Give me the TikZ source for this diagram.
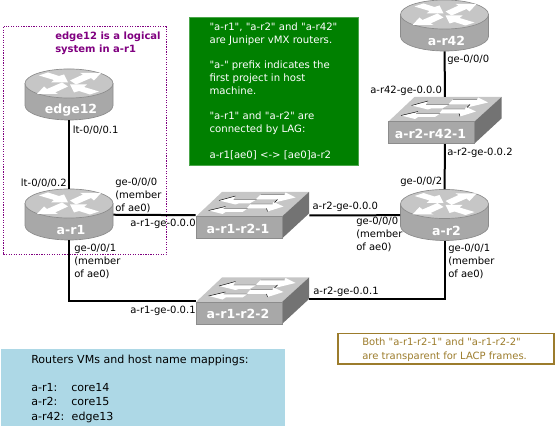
\documentclass[tikz,border=0pt]{standalone}
\usepackage{fontspec}
\setmainfont[Ligatures=TeXOff]{DejaVu Sans}
\definecolor{devtop}{HTML}{C6C6C6}
\definecolor{devfront}{HTML}{A8A8A8}
\definecolor{devside}{HTML}{737373}
\definecolor{devedge}{HTML}{8C8C8C}
\definecolor{notegreen}{HTML}{008000}
\definecolor{noteblue}{HTML}{ADD8E6}
\definecolor{notegold}{HTML}{9C7C2C}
\definecolor{logicpurple}{HTML}{800080}
\tikzset{
	devbox/.style={inner sep=0pt,minimum width=#1},
	devname/.style={text=white,font=\fontsize{9.4}{11}\selectfont\bfseries,inner sep=0pt},
	portlabel/.style={anchor=base west,align=left,inner sep=0pt,font=\fontsize{7.5}{9.5}\selectfont},
	link/.style={line width=1.5pt},
	whitearrow/.style={fill=white,draw=none},
	arrowedge/.style={line width=0.35pt,black}
}
\newcommand{\netrouter}[3]{
	\node[devbox=66pt,minimum height=38.25pt] (#1) at (#2) {};
	\begin{scope}[shift={(#2)}]
		\fill[devfront] (-44,-11) -- (-44,11) .. controls (-44,19) and (-24,25.5) .. (0,25.5) .. controls (24,25.5) and (44,19) .. (44,11) -- (44,-11) -- cycle;
		\draw[devedge,line width=0.5pt] (-44,-11) -- (-44,11) .. controls (-44,19) and (-24,25.5) .. (0,25.5) .. controls (24,25.5) and (44,19) .. (44,11) -- (44,-11);
		\draw[devedge,fill=devtop,line width=0.5pt] (0,-11) ellipse [x radius=33pt,y radius=10.9pt];
		\begin{scope}[yshift=8.25pt]
			\fill[whitearrow] (1,-3) -- (14,-9) -- (11,-10.5) -- (32,-10.5) -- (25,-3) -- (22,-5.5) -- (7,1) -- cycle;
			\fill[whitearrow] (-1,3) -- (-14,9) -- (-11,10.5) -- (-32,10.5) -- (-25,3) -- (-22,5.5) -- (-7,-1) -- cycle;
			\fill[whitearrow] (-30,-8) -- (-21,-11) -- (-10,-7.5) -- (-5,-9) -- (-1,-1) -- (-18,-1) -- (-15,-3.5) -- cycle;
			\fill[whitearrow] (30,8) -- (21,11) -- (10,7.5) -- (5,9) -- (1,1) -- (18,1) -- (15,3.5) -- cycle;
		\end{scope}
		\node[devname] (#1-name) at (2,15.5) {#3};
	\end{scope}
}
\newcommand{\netswitch}[3]{
	\node[devbox=84.75pt,minimum height=35pt] (#1) at (#2) {};
	\begin{scope}[shift={(#2)}]
		\fill[devtop] (-56.5,1) -- (-30.5,-23.5) -- (56.5,-23.5) -- (29.5,1) -- cycle;
		\fill[devside] (29.5,1) -- (56.5,-23.5) -- (56.5,-2) -- (29.5,23) -- cycle;
		\draw[devedge,fill=devfront,line width=0.5pt] (-56.5,1) rectangle (29.5,23);
		\fill[whitearrow] (-33.5,-15) -- (-17,-19.5) -- (-19,-16) -- (4,-16) -- (-3,-12) -- (-14,-12) -- (-17,-11) -- cycle;
		\fill[whitearrow] (43,-18) -- (33,-23) -- (32,-21) -- (8,-21) -- (3,-16) -- (25,-16) -- (22,-13) -- cycle;
		\fill[whitearrow] (-44,-5) -- (-27,-9) -- (-29,-7) -- (-5,-7) -- (-10,-3.5) -- (-27,-3.5) -- (-30,-1.5) -- cycle;
		\fill[whitearrow] (31,-9) -- (21,-13.5) -- (20,-11.5) -- (-2,-11.5) -- (-6,-7) -- (14,-7) -- (15,-4) -- cycle;
		\draw[arrowedge] (-33.5,-15) -- (-17,-19.5) (-19,-16) -- (4,-16) (8,-21) -- (32,-21) (25,-16) -- (22,-13);
		\draw[arrowedge] (-44,-5) -- (-27,-9) (-29,-7) -- (-5,-7) (-2,-11.5) -- (20,-11.5) (14,-7) -- (15,-4);
		\node[devname] (#1-name) at (-14.5,13) {#3};
	\end{scope}
}
\begin{document}
\begin{tikzpicture}[x=0.75pt,y=-0.75pt]
	\useasboundingbox (0,0) rectangle (556,427);
	\draw[logicpurple,dash pattern=on 0.9pt off 1pt,line width=0.75pt] (3.5,27) rectangle (166,255);
	\fill[noteblue] (1,349) rectangle (285,426);
	\draw[notegreen!70!white,fill=notegreen,line width=0.5pt] (189.5,17.5) rectangle (358.5,165);
	\draw[notegold,line width=0.8pt] (338,333.5) rectangle (554,364);

	\netrouter{edge12}{69,94.5}{edge12}
	\netrouter{a-r1}{69,214.5}{a-r1}
	\netrouter{a-r2}{444.5,215}{a-r2}
	\netrouter{a-r42}{444.5,25.5}{a-r42}
	\netswitch{a-r1-r2-1}{252.5,215.5}{a-r1-r2-1}
	\netswitch{a-r1-r2-2}{252.5,301}{a-r1-r2-2}
	\netswitch{a-r2-r42-1}{445,120.5}{a-r2-r42-1}

	\draw[link] (edge12) -- (a-r1);
	\draw[link] (a-r1) -- (a-r1-r2-1);
	\draw[link] (a-r1) |- (a-r1-r2-2);
	\draw[link] (a-r1-r2-1.east) -- (a-r2);
	\draw[link] (a-r2) |- ([yshift=1.5pt]a-r1-r2-2.east);
	\draw[link] (a-r42) -- (a-r2-r42-1);
	\draw[link] (a-r2-r42-1) -- (a-r2);

	\node[portlabel] (lt1) at (72.5,133.5) {lt-0/0/0.1};
	\node[portlabel] (lt2) at (20.7,186.5) {lt-0/0/0.2};
	\node[portlabel] (r1ge0) at (115,211.3) {ge-0/0/0\\(member\\of ae0)};
	\node[portlabel] (r1ge1) at (74,277) {ge-0/0/1\\(member\\of ae0)};
	\node[portlabel] (r2ge0) at (356,250.3) {ge-0/0/0\\(member\\of ae0)};
	\node[portlabel] (r2ge1) at (448,277) {ge-0/0/1\\(member\\of ae0)};
	\node[portlabel] (r2ge2) at (400,185) {ge-0/0/2};
	\node[portlabel] (r42ge0) at (447,62.7) {ge-0/0/0};
	\node[portlabel] (swr1a) at (130,226.7) {a-r1-ge-0.0.0};
	\node[portlabel] (swr1b) at (130,313) {a-r1-ge-0.0.1};
	\node[portlabel] (swr2a) at (312.3,210) {a-r2-ge-0.0.0};
	\node[portlabel] (swr2b) at (313,295) {a-r2-ge-0.0.1};
	\node[portlabel] (swr2c) at (447,155.7) {a-r2-ge-0.0.2};
	\node[portlabel] (swr42) at (370,93.3) {a-r42-ge-0.0.0};

	\node[portlabel,text=logicpurple,font=\fontsize{7.5}{9.75}\selectfont\bfseries] (logicnote) at (55,53) {edge12 is a logical\\system in a-r1};
	\node[portlabel,text=white,font=\fontsize{7.6}{9.6}\selectfont] (vmxnote) at (209.3,158.3) {"a-r1", "a-r2" and "a-r42"\\are Juniper vMX routers.\\ \\"a-" prefix indicates the\\first project in host\\machine.\\ \\"a-r1" and "a-r2" are\\connected by LAG:\\ \\a-r1[ae0] <-> [ae0]a-r2};
	\node[portlabel,text=notegold,font=\fontsize{7.5}{9.9}\selectfont] (lacpnote) at (362,359) {Both "a-r1-r2-1" and "a-r1-r2-2"\\are transparent for LACP frames.};
	\node[portlabel,font=\fontsize{8.3}{10.65}\selectfont] (mapnote) at (31,420) {Routers VMs and host name mappings:\\ \\a-r1:\hspace{10.5pt}core14\\a-r2:\hspace{10.5pt}core15\\a-r42:\hspace{5.5pt}edge13};
\end{tikzpicture}
\end{document}
